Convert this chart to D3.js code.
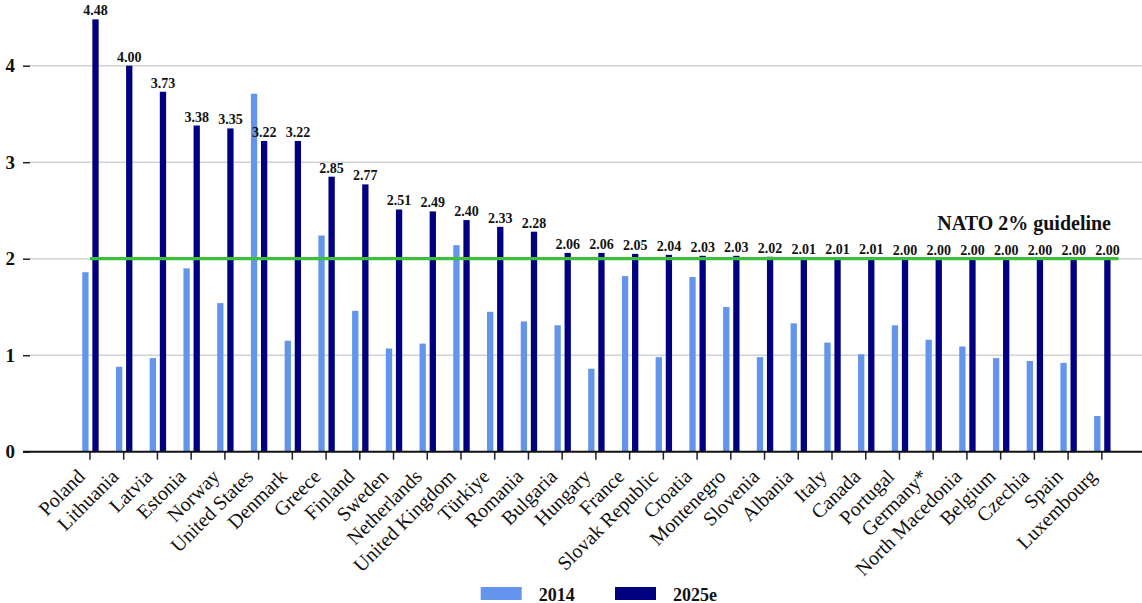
<!DOCTYPE html>
<html>
<head>
<meta charset="utf-8">
<script src="https://cdn.jsdelivr.net/npm/d3@7"></script>
<style>
  html, body { margin: 0; padding: 0; background: #fff; }
  svg { display: block; }
  svg text { font-family: "Liberation Serif", "Times New Roman", serif; }
</style>
</head>
<body>
<svg id="chart" width="1142" height="603"></svg>
<script>
const categories = ["Poland","Lithuania","Latvia","Estonia","Norway","United States","Denmark","Greece","Finland","Sweden","Netherlands","United Kingdom","Türkiye","Romania","Bulgaria","Hungary","France","Slovak Republic","Croatia","Montenegro","Slovenia","Albania","Italy","Canada","Portugal","Germany*","North Macedonia","Belgium","Czechia","Spain","Luxembourg"];
const values2014 = [1.86,0.88,0.97,1.90,1.54,3.71,1.15,2.24,1.46,1.07,1.12,2.14,1.45,1.35,1.31,0.86,1.82,0.98,1.81,1.50,0.98,1.33,1.13,1.01,1.31,1.16,1.09,0.97,0.94,0.92,0.37];
const values2025 = [4.48,4.00,3.73,3.38,3.35,3.22,3.22,2.85,2.77,2.51,2.49,2.40,2.33,2.28,2.06,2.06,2.05,2.04,2.03,2.03,2.02,2.01,2.01,2.01,2.00,2.00,2.00,2.00,2.00,2.00,2.00];
const seriesNames = ["2014","2025e"];
const seriesColors = ["#6495ED","#000080"];
const yTicks = [0,1,2,3,4];
const guidelineValue = 2;
const guidelineLabel = "NATO 2% guideline";

const svg = d3.select("#chart");
const W = 1142, H = 603;
const serif = "Liberation Serif, Times New Roman, serif";

const x = d3.scaleBand().domain(categories).range([73.1, 1118.7]).padding(0);
const xs = d3.scaleBand().domain(seriesNames).range([-7.7, 8.7]).paddingInner(0.376);
const y = d3.scaleLinear().domain([0, 4]).range([451.7, 65.7]);
const color = d3.scaleOrdinal().domain(seriesNames).range(seriesColors);
const cx = d => x(d) + x.bandwidth() / 2;

// gridlines
svg.append("g").selectAll("line").data(yTicks.filter(t => t > 0)).join("line")
  .attr("x1", 30).attr("x2", W).attr("y1", d => y(d)).attr("y2", d => y(d))
  .attr("stroke", "#d2d2d2").attr("stroke-width", 1.5);

// y axis ticks (no domain)
const yAxis = svg.append("g").attr("transform", "translate(30,0)")
  .call(d3.axisLeft(y).tickValues(yTicks).tickSize(7).tickPadding(8).tickFormat(d3.format("d")))
  .attr("font-family", serif);
yAxis.select(".domain").remove();
yAxis.selectAll(".tick line").attr("stroke", "#222").attr("stroke-width", 1.5);
yAxis.selectAll(".tick text").attr("font-family", serif)
  .attr("font-size", 19).attr("font-weight", "bold").attr("fill", "#111");

// bars
const rows = categories.map((c, i) => ({ c, vals: [values2014[i], values2025[i]] }));
const groups = svg.append("g").selectAll("g").data(rows).join("g")
  .attr("transform", d => `translate(${cx(d.c)},0)`);
groups.selectAll("rect").data(d => d.vals.map((v, j) => ({ s: seriesNames[j], v }))).join("rect")
  .attr("x", d => xs(d.s)).attr("width", xs.bandwidth())
  .attr("y", d => y(d.v)).attr("height", d => y(0) - y(d.v))
  .attr("fill", d => color(d.s));

// x axis
const xAxis = svg.append("g").attr("transform", `translate(0,${y(0)})`)
  .call(d3.axisBottom(x).tickSize(8).tickSizeOuter(0));
xAxis.select(".domain").remove();
xAxis.selectAll(".tick line").attr("stroke", "#222").attr("stroke-width", 1.5);
xAxis.selectAll(".tick text").remove();
svg.append("line").attr("x1", 23).attr("x2", W).attr("y1", y(0)).attr("y2", y(0))
  .attr("stroke", "#111").attr("stroke-width", 2);

// x labels
svg.append("g").attr("font-family", serif).selectAll("text").data(categories).join("text")
  .attr("transform", d => `translate(${cx(d) - 4},${y(0) + 26}) rotate(-45)`)
  .attr("text-anchor", "end")
  .attr("font-family", serif).attr("font-size", 20).attr("fill", "#111")
  .text(d => d);

// guideline
svg.append("line")
  .attr("x1", cx(categories[0])).attr("x2", cx(categories[categories.length - 1]) + x.step() / 2)
  .attr("y1", y(guidelineValue)).attr("y2", y(guidelineValue))
  .attr("stroke", "#3cbf3c").attr("stroke-width", 3.2);
svg.append("text").attr("x", 1111).attr("y", y(guidelineValue) - 29)
  .attr("text-anchor", "end").attr("font-family", serif).attr("font-size", 20).attr("font-weight", "bold").attr("fill", "#111")
  .text(guidelineLabel);

// value labels
svg.append("g").attr("font-family", serif).selectAll("text").data(rows).join("text")
  .attr("x", d => cx(d.c) + xs("2025e") + xs.bandwidth() / 2)
  .attr("y", d => y(d.vals[1]) - 4)
  .attr("text-anchor", "middle").attr("font-family", serif).attr("font-size", 14).attr("font-weight", "bold").attr("fill", "#111")
  .text(d => d.vals[1].toFixed(2));

// legend
const legendX = [480.7, 615];
const lg = svg.append("g").attr("font-family", serif).selectAll("g").data(seriesNames).join("g")
  .attr("transform", (d, i) => `translate(${legendX[i]},587)`);
lg.append("rect").attr("width", 41).attr("height", 13).attr("fill", d => color(d));
lg.append("text").attr("x", 58).attr("y", 13.5).attr("font-family", serif).attr("font-size", 18).attr("font-weight", "bold").attr("fill", "#111")
  .text(d => d);
</script>
</body>
</html>
